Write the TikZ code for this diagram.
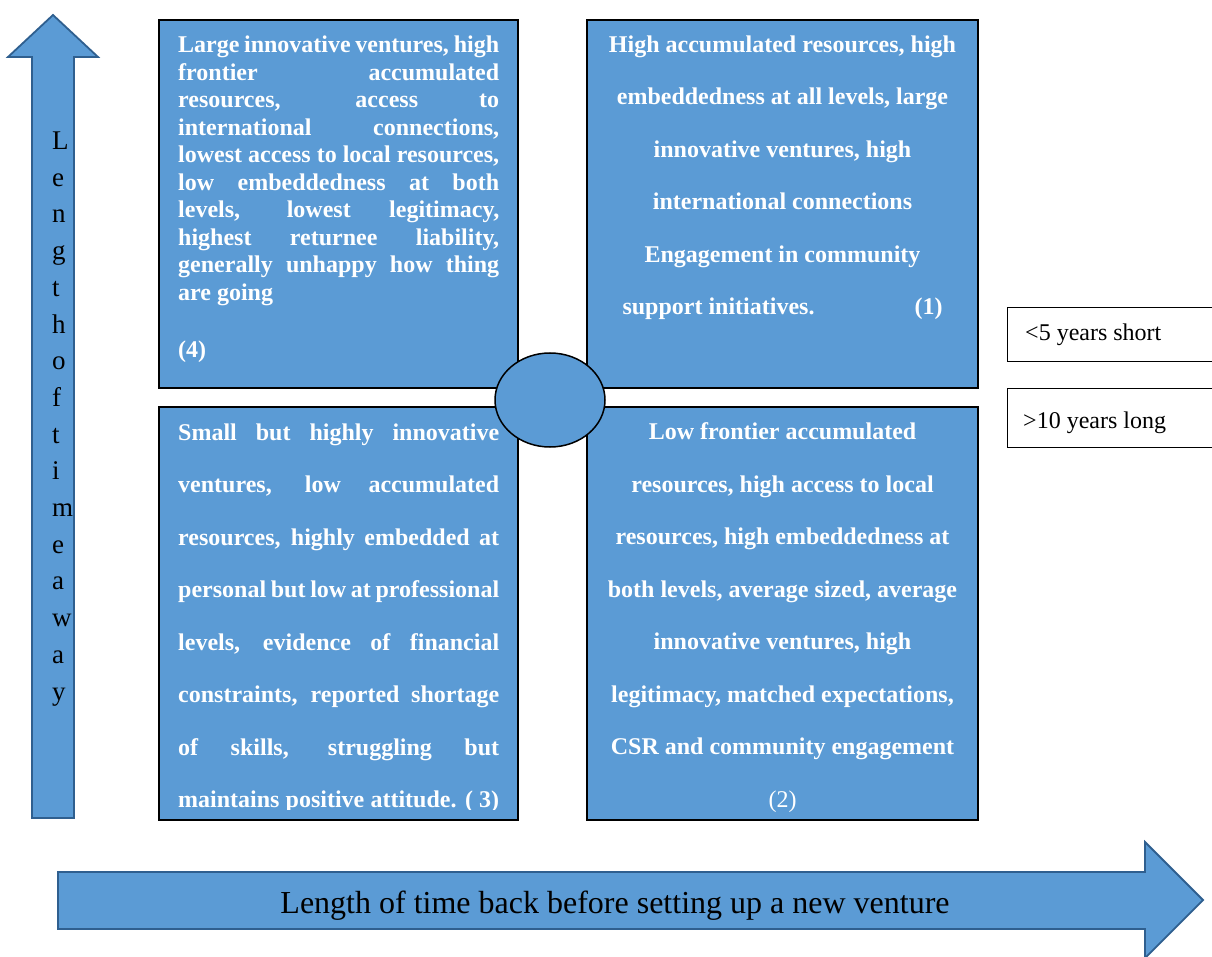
\documentclass[tikz,border=0pt]{standalone}
\usepackage{fontspec}
\setmainfont{Liberation Serif}
\usetikzlibrary{shapes.geometric}
\definecolor{panelblue}{HTML}{5B9BD5}
\definecolor{arrowedge}{HTML}{2F5F8F}
% interword glue that can stretch and shrink (align=left fixes rigid spaces, so reset here)
\newcommand{\flexspace}{\spaceskip=0.25em plus 2em minus 0.1em\relax\xspaceskip=0pt\relax}
% one justified line of a quadrant text, spaces stretched to the full width
\newcommand{\fl}[1]{\leavevmode\hbox to 321pt{\flexspace #1}}

\begin{document}
\begin{tikzpicture}[x=1pt,y=-1pt,
  quad/.style={draw=black, line width=1.5pt, fill=panelblue, rectangle, inner sep=0pt},
  hub/.style={draw=black, line width=1.5pt, fill=panelblue, ellipse, inner sep=0pt,
    minimum width=110pt, minimum height=94pt},
  bigarrow/.style={draw=arrowedge, line width=1.8pt, fill=panelblue, line join=miter},
  legbox/.style={draw=black, line width=1.2pt, fill=white, rectangle, inner sep=0pt},
  tighttext/.style={text=white, inner sep=0pt, font=\fontsize{24}{27.5}\selectfont\bfseries},
  sidetext/.style={text=white, inner sep=0pt, font=\fontsize{24}{52.5}\selectfont\bfseries},
  widetext/.style={text=white, inner sep=0pt, font=\fontsize{24}{52.5}\selectfont\bfseries},
  legtext/.style={inner sep=0pt, font=\fontsize{24}{28}\selectfont, anchor=base west},
]
\useasboundingbox (0,0) rectangle (1212,957);

% axes
\draw[bigarrow] (32,818) -- (32,57) -- (8,57) -- (53,15) -- (98,57) -- (74,57) -- (74,818) -- cycle;
\draw[bigarrow] (58,872) -- (1145,872) -- (1145,842) -- (1203,900) -- (1145,958) -- (1145,929) -- (58,929) -- cycle;

% align-only nodes: the base anchor sits on the last line
\node[inner sep=0pt, anchor=base west, align=left, font=\fontsize{27}{36.7}\selectfont] (vlabel) at (52,700)
  {L\\e\\n\\g\\t\\h\\o\\f\\t\\i\\m\\e\\a\\w\\a\\y};
\node[inner sep=0pt, anchor=base, font=\fontsize{32}{36}\selectfont] (hlabel) at (615,913)
  {Length of time back before setting up a new venture};

% quadrants
\node[quad, minimum width=359pt, minimum height=368pt] (q4) at (338.5,204) {};
\node[quad, minimum width=391pt, minimum height=368pt] (q1) at (782.5,204) {};
\node[quad, minimum width=359pt, minimum height=413pt] (q3) at (338.5,613.5) {};
\node[quad, minimum width=391pt, minimum height=413pt] (q2) at (782.5,613.5) {};
\node[hub] (hub) at (550,400) {};

% quadrant texts (text-width nodes: the base anchor sits on the first line)
\node[tighttext, anchor=base west, text width=321pt, align=left] (t4) at (178,53)
  {\fl{Large innovative ventures, high}\\
   \fl{frontier accumulated}\\
   \fl{resources, access to}\\
   \fl{international connections,}\\
   \fl{lowest access to local resources,}\\
   \fl{low embeddedness at both}\\
   \fl{levels, lowest legitimacy,}\\
   \fl{highest returnee liability,}\\
   \fl{generally unhappy how thing}\\
   {\flexspace are going}\\[29.5pt]
   (4)};

\node[widetext, anchor=base, align=center] (t1) at (782.5,315)
  {High accumulated resources, high\\
   embeddedness at all levels, large\\
   innovative ventures, high\\
   international connections\\
   Engagement in community\\
   \makebox[320pt]{support initiatives.\hfill(1)}};

\begin{scope}
  \clip (159,407) rectangle (518,809);
  \node[sidetext, anchor=base west, text width=321pt, align=left] (t3) at (178,440)
    {\fl{Small but highly innovative}\\
     \fl{ventures, low accumulated}\\
     \fl{resources, highly embedded at}\\
     \fl{personal but low at professional}\\
     \fl{levels, evidence of financial}\\
     \fl{constraints, reported shortage}\\
     \fl{of skills, struggling but}\\
     \fl{maintains positive attitude. ( 3)}};
\end{scope}

\node[widetext, anchor=base, align=center] (t2) at (782.5,807)
  {Low frontier accumulated\\
   resources, high access to local\\
   resources, high embeddedness at\\
   both levels, average sized, average\\
   innovative ventures, high\\
   legitimacy, matched expectations,\\
   CSR and community engagement\\
   {\mdseries (2)}};

% legend
\node[legbox, minimum width=205pt, minimum height=54pt, anchor=north west] (short) at (1007,307) {};
\node[legbox, minimum width=205pt, minimum height=59pt, anchor=north west] (long) at (1007,388) {};
\node[legtext] (shorttext) at (1025,341) {<5 years short};
\node[legtext] (longtext) at (1023,428) {>10 years long};
\end{tikzpicture}
\end{document}
